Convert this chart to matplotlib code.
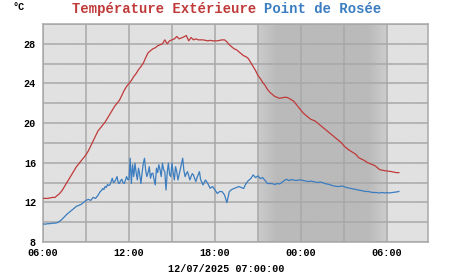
import numpy as np
import pandas as pd
import matplotlib
matplotlib.use("Agg")
import matplotlib.pyplot as plt
import matplotlib.dates as mdates

# outside temperature, 10 minute readings from 11/07/2025 06:00
TEMP_START = "2025-07-11 06:00"
TEMP_EXT = [
    12.4, 12.4, 12.4, 12.45, 12.5, 12.5,
    12.7, 12.9, 13.2, 13.6, 14.0, 14.4,
    14.8, 15.2, 15.6, 15.9, 16.2, 16.5,
    16.8, 17.2, 17.7, 18.2, 18.7, 19.2,
    19.5, 19.8, 20.1, 20.5, 20.9, 21.3,
    21.7, 22.0, 22.3, 22.8, 23.3, 23.7,
    24.0, 24.3, 24.7, 25.0, 25.4, 25.7,
    26.05, 26.6, 27.1, 27.3, 27.5, 27.6,
    27.8, 27.9, 28.0, 28.4, 28.0, 28.3,
    28.4, 28.5, 28.74, 28.5, 28.6, 28.7,
    28.84, 28.3, 28.64, 28.4, 28.5, 28.4,
    28.4, 28.4, 28.35, 28.3, 28.35, 28.3,
    28.3, 28.3, 28.35, 28.4, 28.4, 28.2,
    27.9, 27.7, 27.5, 27.4, 27.2, 27.0,
    26.8, 26.7, 26.5, 26.1, 25.7, 25.3,
    24.8, 24.5, 24.1, 23.8, 23.4, 23.1,
    22.9, 22.7, 22.6, 22.5, 22.55, 22.6,
    22.6, 22.5, 22.35, 22.2, 21.9, 21.6,
    21.3, 21.0, 20.8, 20.6, 20.4, 20.3,
    20.2, 20.0, 19.8, 19.6, 19.4, 19.2,
    19.0, 18.8, 18.6, 18.4, 18.2, 18.0,
    17.7, 17.5, 17.3, 17.15, 17.0, 16.85,
    16.55, 16.4, 16.3, 16.15, 16.0, 15.9,
    15.8, 15.7, 15.5, 15.3, 15.25, 15.2,
    15.17, 15.15, 15.1, 15.05, 15.0, 15.0,
]

# dew point: 10 min until 10:00, 5 min 10:00-17:00, then 10 min again
DEW_START_A = "2025-07-11 06:00"
DEW_POINT_A = [
    9.82, 9.8, 9.85, 9.85, 9.9, 9.9,
    9.95, 10.1, 10.3, 10.55, 10.8, 11.0,
    11.2, 11.4, 11.6, 11.7, 11.8, 12.0,
    12.2, 12.3, 12.2, 12.5, 12.4, 12.7,
]
DEW_START_B = "2025-07-11 10:00"
DEW_POINT_B = [
    13.1, 13.2, 13.4, 13.3, 13.6, 13.5, 13.8, 13.7, 13.76, 14.1, 14.43, 14.0,
    14.1, 14.3, 14.6, 14.0, 13.9, 14.2, 14.33, 14.0, 13.9, 14.2, 14.6, 14.3,
    14.3, 16.45, 13.9, 15.8, 14.6, 15.95, 15.0, 14.26, 15.45, 14.8, 13.9, 15.0,
    15.95, 16.45, 15.2, 14.6, 15.0, 15.6, 14.43, 14.9, 14.94, 14.3, 13.76, 15.45,
    15.0, 15.8, 15.3, 14.6, 15.95, 15.3, 15.1, 13.25, 15.0, 15.95, 14.8, 14.6,
    15.95, 15.0, 14.26, 15.6, 15.1, 14.26, 14.8, 15.3, 15.9, 16.45, 15.2, 14.6,
    14.9, 15.1, 14.7, 14.26, 14.6, 14.9, 14.77, 14.4, 14.1, 14.5, 14.8, 15.1,
]
DEW_START_C = "2025-07-11 17:00"
DEW_POINT_C = [
    14.3, 13.76, 14.26, 13.9, 13.42, 13.6,
    13.25, 12.9, 13.1, 13.08, 12.75, 11.97,
    13.08, 13.3, 13.4, 13.5, 13.6, 13.5,
    13.4, 13.9, 14.2, 14.4, 14.77, 14.5,
    14.67, 14.4, 14.5, 14.2, 13.9, 13.9,
    13.9, 13.8, 13.9, 13.86, 14.0, 14.2,
    14.33, 14.2, 14.3, 14.25, 14.2, 14.26,
    14.26, 14.2, 14.15, 14.1, 14.15, 14.1,
    14.05, 14.0, 14.05, 14.0, 13.9, 13.85,
    13.8, 13.7, 13.65, 13.6, 13.6, 13.65,
    13.6, 13.5, 13.45, 13.4, 13.35, 13.3,
    13.25, 13.2, 13.15, 13.1, 13.1, 13.05,
    13.0, 13.0, 12.98, 12.95, 13.0, 12.95,
    12.98, 12.95, 12.98, 13.0, 13.05, 13.1,
]

NIGHT_START = "2025-07-11 21:00"
NIGHT_END = "2025-07-12 06:00"
X_MIN = "2025-07-11 06:00"
X_MAX = "2025-07-12 08:52"
UPDATED = "12/07/2025 07:00:00"

RED = "#c03a3a"
BLUE = "#3b7dc0"
FONT = "Liberation Mono"


def series(start, values, step):
    return pd.Series(values, index=pd.date_range(start, periods=len(values), freq=step))


temp = series(TEMP_START, TEMP_EXT, "10min")
dew = pd.concat([
    series(DEW_START_A, DEW_POINT_A, "10min"),
    series(DEW_START_B, DEW_POINT_B, "5min"),
    series(DEW_START_C, DEW_POINT_C, "10min"),
])

fig = plt.figure(figsize=(4.51, 2.75), dpi=100)
ax = fig.add_axes([43 / 451, 1 - 242 / 275, 385 / 451, 218 / 275])

x0 = mdates.date2num(pd.Timestamp(X_MIN))
x1 = mdates.date2num(pd.Timestamp(X_MAX))
n0 = mdates.date2num(pd.Timestamp(NIGHT_START))
n1 = mdates.date2num(pd.Timestamp(NIGHT_END))

# background with night band, soft edges on the inside
xs = np.linspace(x0, x1, 800)
edge = 1.3 / 24
shade = np.full_like(xs, 0.88)
night = (xs >= n0) & (xs < n1)
dist = np.minimum(xs - n0, n1 - xs)
shade[night] = 0.73 + 0.07 * np.clip(1 - dist[night] / edge, 0, 1)
ax.imshow(shade[np.newaxis, :], aspect="auto", cmap="gray", vmin=0, vmax=1,
          extent=[x0, x1, 8, 30], zorder=0, interpolation="bilinear")

ax.plot(temp.index, temp.values, color=RED, lw=0.9, zorder=3)
ax.plot(dew.index, dew.values, color=BLUE, lw=0.9, zorder=3)

ax.set_xlim(x0, x1)
ax.set_ylim(8, 30)
ax.xaxis.set_major_locator(mdates.HourLocator(byhour=[0, 6, 12, 18]))
ax.xaxis.set_minor_locator(mdates.HourLocator(byhour=[3, 9, 15, 21]))
ax.xaxis.set_major_formatter(mdates.DateFormatter("%H:%M"))
ax.set_yticks(range(8, 30, 4))
ax.set_yticks(range(10, 31, 4), minor=True)
ax.grid(True, which="both", color="#a8a8a8", lw=1.1, zorder=1)
ax.tick_params(which="both", length=0)
ax.tick_params(axis="x", pad=4)
ax.tick_params(axis="y", pad=5)
for lbl in ax.get_xticklabels() + ax.get_yticklabels():
    lbl.set_fontfamily(FONT)
    lbl.set_fontweight("bold")
    lbl.set_fontsize(7.3)
for s in ax.spines.values():
    s.set_color("#a8a8a8")
    s.set_linewidth(1.1)

fig.text(12 / 451, 1 - 7 / 275, "°C", family=FONT, weight="bold", fontsize=7.3,
         va="center", ha="left")
fig.text(72 / 451, 1 - 9 / 275, "Température Extérieure", family=FONT,
         weight="bold", fontsize=10, color=RED, va="center", ha="left")
fig.text(72 / 451 + 23 * 8.33 / 451, 1 - 9 / 275, "Point de Rosée", family=FONT,
         weight="bold", fontsize=10, color=BLUE, va="center", ha="left")
fig.text(226 / 451, 1 - 269 / 275, UPDATED, family=FONT, weight="bold",
         fontsize=7.3, va="center", ha="center")

fig.savefig("out.png", dpi=100, facecolor="white")
